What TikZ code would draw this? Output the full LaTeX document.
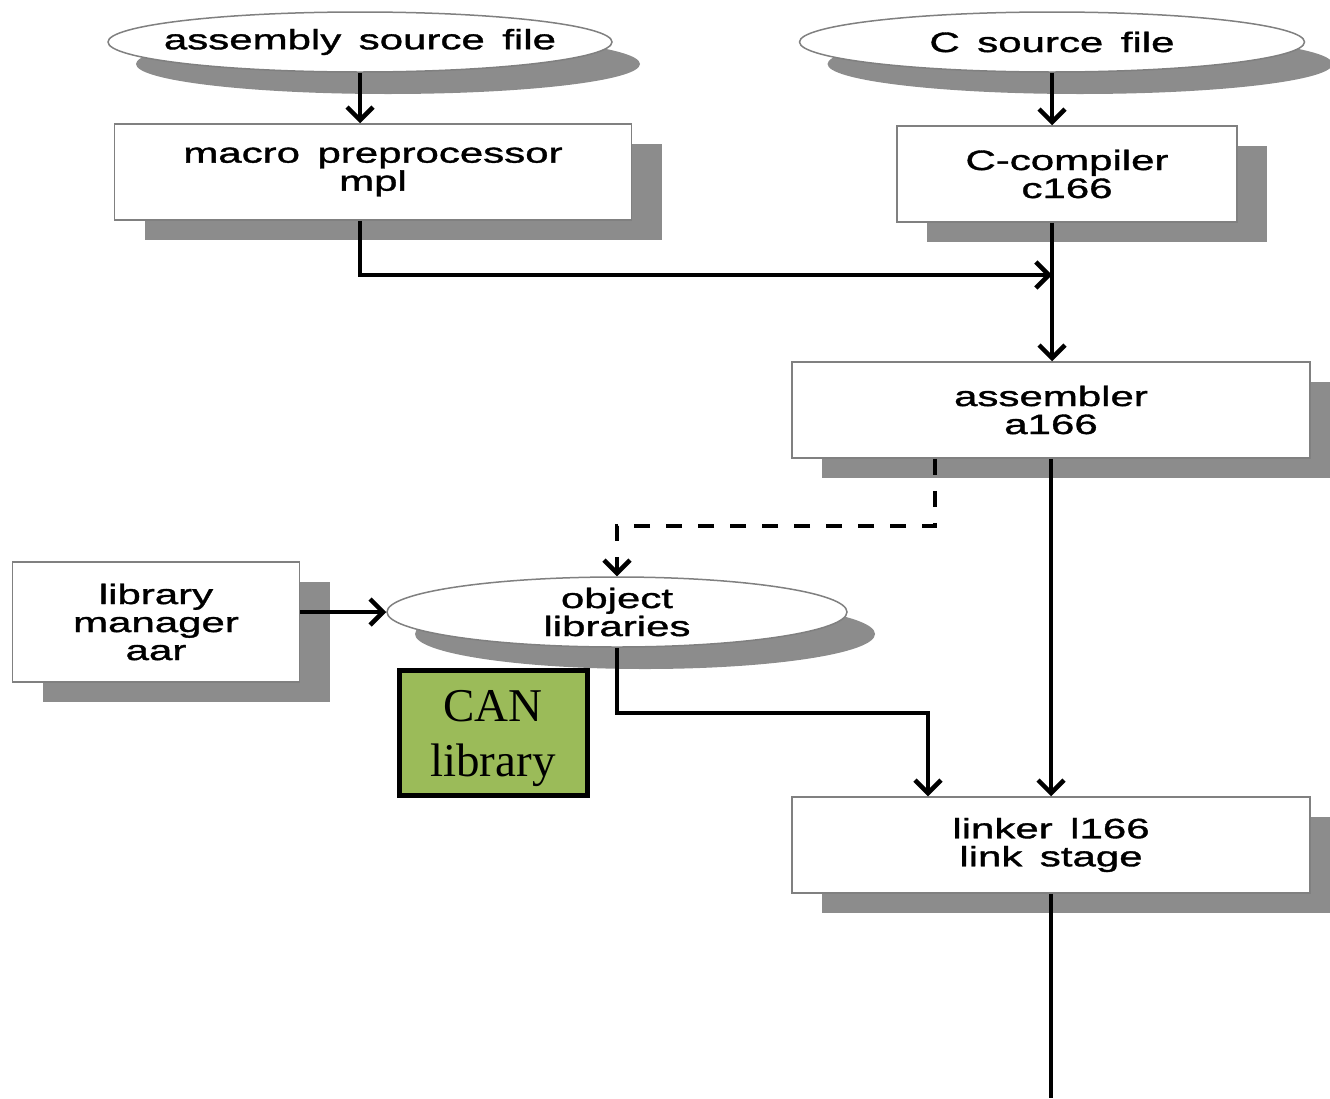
\documentclass[tikz,border=0pt]{standalone}
\usepackage{fontspec}
\usepackage{tikz}
\usetikzlibrary{arrows.meta,calc,positioning,shapes.geometric,shadows}
\newfontfamily\boxfont[FakeStretch=1.5,WordSpace=1.5,FakeBold=1.3]{Liberation Sans}
\newfontfamily\canfont{Liberation Serif}
\definecolor{shade}{HTML}{8C8C8C}
\definecolor{rim}{HTML}{808080}
\definecolor{cangreen}{HTML}{9BBB59}

\begin{document}
\begin{tikzpicture}[x=1pt,y=-1pt,>={Straight Barb[length=13pt,width=26pt]},
  txt/.style={font=\boxfont\fontsize{28}{28}\selectfont,align=center,text=black},
  stage/.style={txt,draw=rim,line width=1.5pt,fill=white,minimum height=96pt,inner sep=0pt,
    drop shadow={shadow xshift=30pt,shadow yshift=-20pt,fill=shade,opacity=1}},
  datafile/.style={ellipse,draw=rim,line width=1.5pt,fill=white,inner sep=0pt,
    drop shadow={shadow xshift=28pt,shadow yshift=-22pt,fill=shade,opacity=1}},
  canbox/.style={draw=black,line width=5pt,fill=cangreen,minimum width=188pt,minimum height=125pt,
    font=\canfont\fontsize{47}{55}\selectfont,align=center},
  flow/.style={->,line width=4.5pt,black}]
  \useasboundingbox (0,0) rectangle (1330,1098);

  % sources
  \node[datafile,minimum width=504pt,minimum height=60pt,label={[txt]center:assembly source file}] (asm) at (360,42) {};
  \node[datafile,minimum width=505pt,minimum height=60pt,label={[txt]center:C source file}] (csrc) at (1052,42) {};

  % tools
  \node[stage,minimum width=517pt] (mpl) at (373,172) {macro preprocessor\\mpl};
  \node[stage,minimum width=340pt] (ccomp) at (1067,174) {C-compiler\\c166};
  \node[stage,minimum width=518pt] (asmb) at (1051,410) {assembler\\a166};
  \node[stage,minimum width=287pt,minimum height=120pt] (libman) at (156,622) {library\\manager\\aar};
  \node[datafile,minimum width=460pt,minimum height=70pt,label={[txt]center:object\\libraries}] (objlib) at (617,612) {};
  \node[canbox,text depth=0pt] (can) at (493,733) {CAN\\library};
  \node[stage,minimum width=518pt] (linker) at (1051,845) {linker l166\\link stage};

  \coordinate (merge) at (csrc.south |- 0,275);
  \coordinate (out) at (linker.south |- 0,1098);

  % connections
  \draw[flow] (asm.south) -- (asm.south |- mpl.north);
  \draw[flow] (csrc.south) -- (csrc.south |- ccomp.north);
  \draw[flow] (asm.south |- mpl.south) |- (merge);
  \draw[flow] (csrc.south |- ccomp.south) -- (csrc.south |- asmb.north);
  \draw[flow,dash pattern=on 16pt off 16pt] (asmb.south -| 935,0) -- ++(0,67) -| (objlib.north);
  \draw[flow] (libman.east |- objlib.west) -- (objlib.west);
  \draw[flow] (objlib.south) -- ++(0,65) -| (linker.north -| 928,0);
  \draw[flow] (asmb.south) -- (linker.north);
  \draw[line width=4.5pt] (linker.south) -- (out);
\end{tikzpicture}
\end{document}
